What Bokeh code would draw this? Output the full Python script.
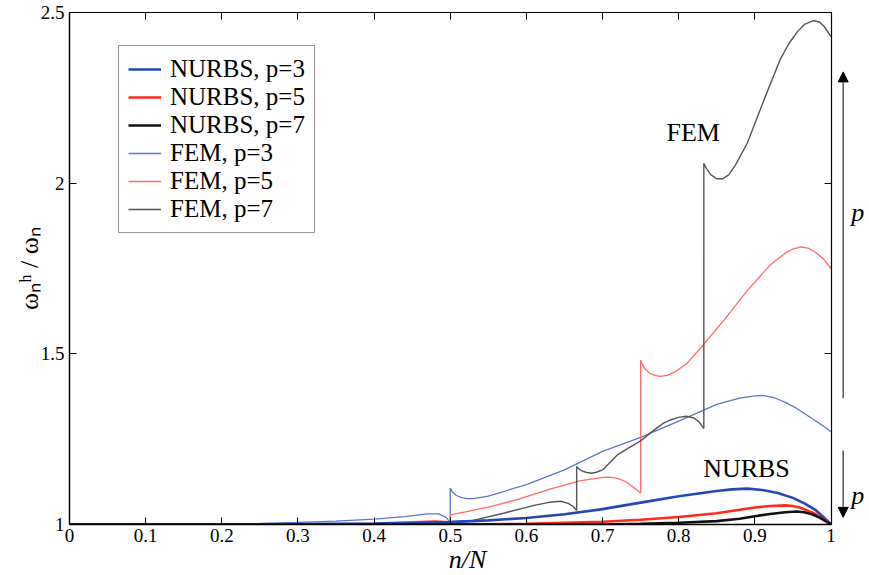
from bokeh.plotting import figure
from bokeh.models import (Range1d, LinearAxis, Label, Arrow, NormalHead, Legend,
                          LegendItem, FixedTicker)
from bokeh.embed import file_html
from bokeh.resources import INLINE

# ---------------- data ----------------
x_ticks = [0, 0.1, 0.2, 0.3, 0.4, 0.5, 0.6, 0.7, 0.8, 0.9, 1]
y_ticks = [1, 1.5, 2, 2.5]

nurbs3_x = [0, 0.2, 0.3, 0.4, 0.5, 0.55, 0.6, 0.65, 0.7, 0.75, 0.8, 0.85, 0.87, 0.89, 0.91, 0.93,
            0.95, 0.965, 0.98, 0.99, 1.0]
nurbs3_y = [1, 1.0, 1.001, 1.003, 1.007, 1.012, 1.019, 1.03, 1.045, 1.064, 1.083, 1.098, 1.103,
            1.105, 1.101, 1.092, 1.078, 1.062, 1.042, 1.022, 1.0]

nurbs5_x = [0, 0.5, 0.6, 0.7, 0.75, 0.8, 0.85, 0.88, 0.9, 0.92, 0.94, 0.95, 0.96, 0.97, 0.98,
            0.99, 1.0]
nurbs5_y = [1, 1.0, 1.002, 1.008, 1.014, 1.022, 1.033, 1.043, 1.05, 1.054, 1.056, 1.054, 1.049,
            1.04, 1.03, 1.016, 1.0]

nurbs7_x = [0, 0.7, 0.75, 0.8, 0.85, 0.88, 0.9, 0.92, 0.94, 0.955, 0.965, 0.975, 0.985, 0.993, 1.0]
nurbs7_y = [1, 1.0, 1.002, 1.005, 1.01, 1.017, 1.024, 1.031, 1.036, 1.038, 1.036, 1.03, 1.02,
            1.01, 1.0]

fem3_x = [0, 0.1, 0.2, 0.25, 0.3, 0.35, 0.4, 0.44, 0.47, 0.485, 0.495, 0.5, 0.5, 0.503, 0.508,
          0.515, 0.522, 0.53, 0.55, 0.6, 0.65, 0.7, 0.75, 0.8, 0.85, 0.88, 0.9, 0.91, 0.925,
          0.94, 0.955, 0.97, 0.985, 1.0]
fem3_y = [1, 1.0, 1.001, 1.003, 1.006, 1.010, 1.016, 1.023, 1.031, 1.031, 1.020, 1.004, 1.107,
          1.095, 1.085, 1.079, 1.076, 1.076, 1.083, 1.117, 1.160, 1.214, 1.255, 1.303, 1.352,
          1.370, 1.377, 1.378, 1.372, 1.358, 1.34, 1.318, 1.296, 1.272]

fem5_x = [0, 0.1, 0.2, 0.3, 0.4, 0.45, 0.48, 0.49, 0.497, 0.5, 0.5, 0.52, 0.55, 0.59, 0.63, 0.67,
          0.70, 0.71, 0.72, 0.73, 0.74, 0.75, 0.75, 0.752, 0.756, 0.762, 0.77, 0.776, 0.785,
          0.795, 0.81, 0.83, 0.86, 0.89, 0.92, 0.94, 0.95, 0.96, 0.97, 0.98, 0.99, 1.0]
fem5_y = [1, 1.0, 1.0, 1.001, 1.004, 1.008, 1.011, 1.010, 1.008, 1.006, 1.028, 1.037, 1.051,
          1.074, 1.103, 1.128, 1.138, 1.139, 1.135, 1.126, 1.110, 1.092, 1.481, 1.470, 1.455,
          1.443, 1.436, 1.434, 1.437, 1.447, 1.470, 1.520, 1.600, 1.685, 1.760, 1.795, 1.807,
          1.813, 1.810, 1.797, 1.778, 1.750]

fem7_x = [0, 0.1, 0.2, 0.3, 0.4, 0.45, 0.49, 0.5, 0.5, 0.53, 0.57, 0.61, 0.63, 0.645, 0.655,
          0.662, 0.666, 0.666, 0.668, 0.672, 0.678, 0.685, 0.692, 0.70, 0.72, 0.735, 0.75,
          0.765, 0.78, 0.79, 0.80, 0.81, 0.82, 0.827, 0.833, 0.833, 0.836, 0.842, 0.85, 0.858,
          0.866, 0.875, 0.89, 0.912, 0.933, 0.945, 0.956, 0.965, 0.977, 0.985, 0.991, 1.0]
fem7_y = [1, 1.0, 1.0, 1.0005, 1.002, 1.004, 1.005, 1.003, 1.008, 1.012, 1.033, 1.056, 1.065,
          1.068, 1.062, 1.052, 1.041, 1.170, 1.165, 1.158, 1.153, 1.150, 1.153, 1.160, 1.205,
          1.225, 1.245, 1.272, 1.297, 1.307, 1.314, 1.317, 1.312, 1.300, 1.281, 2.058, 2.045,
          2.025, 2.013, 2.013, 2.025, 2.055, 2.117, 2.244, 2.361, 2.41, 2.444, 2.465, 2.476,
          2.472, 2.459, 2.429]

series_labels = ["NURBS, p=3", "NURBS, p=5", "NURBS, p=7", "FEM, p=3", "FEM, p=5", "FEM, p=7"]

# ---------------- figure ----------------
SERIF = "Liberation Serif"
PX_PER_UNIT = 761.5          # pixels per unit n/N in the reference
FRAME_W = 796                # frame reaches past n/N = 1 to hold the p arrows
X_MAX = FRAME_W / PX_PER_UNIT

p = figure(frame_width=FRAME_W, frame_height=512, x_range=Range1d(0, X_MAX),
           y_range=Range1d(1, 2.5), output_backend="svg", toolbar_location=None,
           min_border_left=69, min_border_right=0, min_border_top=12, min_border_bottom=10)
p.background_fill_color = "white"
p.border_fill_color = "white"
p.outline_line_color = None
p.xgrid.visible = False
p.ygrid.visible = False

for ax in (p.xaxis[0], p.yaxis[0]):
    ax.major_tick_in = 7
    ax.major_tick_out = 0
    ax.minor_tick_in = 0
    ax.minor_tick_out = 0
    ax.axis_line_color = "black"
    ax.axis_line_width = 1.5
    ax.major_tick_line_color = "black"
    ax.major_label_text_font = SERIF
    ax.major_label_text_font_size = "19px"
    ax.major_label_text_color = "black"
    ax.axis_label_text_font = SERIF
    ax.axis_label_text_color = "black"

p.xaxis[0].ticker = FixedTicker(ticks=x_ticks)
p.xaxis[0].bounds = (0, 1)
p.yaxis[0].ticker = FixedTicker(ticks=y_ticks)
p.xaxis[0].major_label_overrides = {1: "1", 0: "0"}
p.yaxis[0].major_label_overrides = {1: "1", 2: "2"}
p.xaxis[0].major_label_standoff = 4
p.yaxis[0].major_label_standoff = 5
p.xaxis[0].axis_label = "n/N"
p.xaxis[0].axis_label_text_font_style = "italic"
p.xaxis[0].axis_label_text_font_size = "26px"
p.xaxis[0].axis_label_standoff = 0
p.yaxis[0].axis_label = "ωₙʰ / ωₙ"
p.yaxis[0].axis_label_text_font_style = "normal"
p.yaxis[0].axis_label_text_font_size = "26px"
p.yaxis[0].axis_label_standoff = -6

# box edges with mirrored inward ticks on top and at n/N = 1
top = LinearAxis(ticker=FixedTicker(ticks=x_ticks), bounds=(0, 1))
right = LinearAxis(ticker=FixedTicker(ticks=y_ticks), fixed_location=1)
for ax in (top, right):
    ax.major_tick_in = 7
    ax.major_tick_out = 0
    ax.minor_tick_in = 0
    ax.minor_tick_out = 0
    ax.major_label_text_font_size = "2px"
    ax.major_label_text_color = None
    ax.major_label_standoff = 0
    ax.axis_line_color = "black"
    ax.axis_line_width = 1.2
    ax.major_tick_line_color = "black"
p.add_layout(top, "above")
p.add_layout(right, "right")

# ---------------- curves ----------------
r_f3 = p.line(fem3_x, fem3_y, line_color="#5a78cc", line_width=1.3)
r_f5 = p.line(fem5_x, fem5_y, line_color="#ff6a6a", line_width=1.3)
r_f7 = p.line(fem7_x, fem7_y, line_color="#555555", line_width=1.4)
r_n3 = p.line(nurbs3_x, nurbs3_y, line_color="#2347b8", line_width=2.6)
r_n5 = p.line(nurbs5_x, nurbs5_y, line_color="#ff2a1a", line_width=2.6)
r_n7 = p.line(nurbs7_x, nurbs7_y, line_color="#111111", line_width=2.6)

legend = Legend(items=[LegendItem(label=lab, renderers=[r]) for lab, r in
                       zip(series_labels, [r_n3, r_n5, r_n7, r_f3, r_f5, r_f7])],
                location=(49, 291))
legend.label_text_font = SERIF
legend.label_text_font_size = "25px"
legend.label_text_color = "black"
legend.label_height = 20
legend.glyph_height = 20
legend.glyph_width = 33
legend.spacing = 0
legend.padding = 9
legend.margin = 0
legend.label_standoff = 9
legend.border_line_color = "#333333"
legend.border_line_width = 1.5
legend.background_fill_color = "white"
legend.background_fill_alpha = 1.0
p.add_layout(legend)

# ---------------- annotations ----------------
for txt, xx, yy in [("FEM", 0.819, 2.147), ("NURBS", 0.889, 1.164)]:
    p.add_layout(Label(x=xx, y=yy, text=txt, text_font=SERIF, text_font_size="26px",
                       text_align="center", text_baseline="middle", text_color="black"))

p.add_layout(Arrow(end=NormalHead(size=10, fill_color="black", line_color="black"),
                   x_start=1.016, y_start=1.37, x_end=1.016, y_end=2.326,
                   line_color="#555555", line_width=1.5))
p.add_layout(Arrow(end=NormalHead(size=10, fill_color="black", line_color="black"),
                   x_start=1.016, y_start=1.217, x_end=1.016, y_end=1.021,
                   line_color="#555555", line_width=1.5))
for yy in (1.915, 1.085):
    p.add_layout(Label(x=1.035, y=yy, text="p", text_font=SERIF, text_font_size="26px",
                       text_font_style="italic", text_align="center", text_baseline="middle",
                       text_color="black"))

open("out.html", "w").write(file_html(p, INLINE))
